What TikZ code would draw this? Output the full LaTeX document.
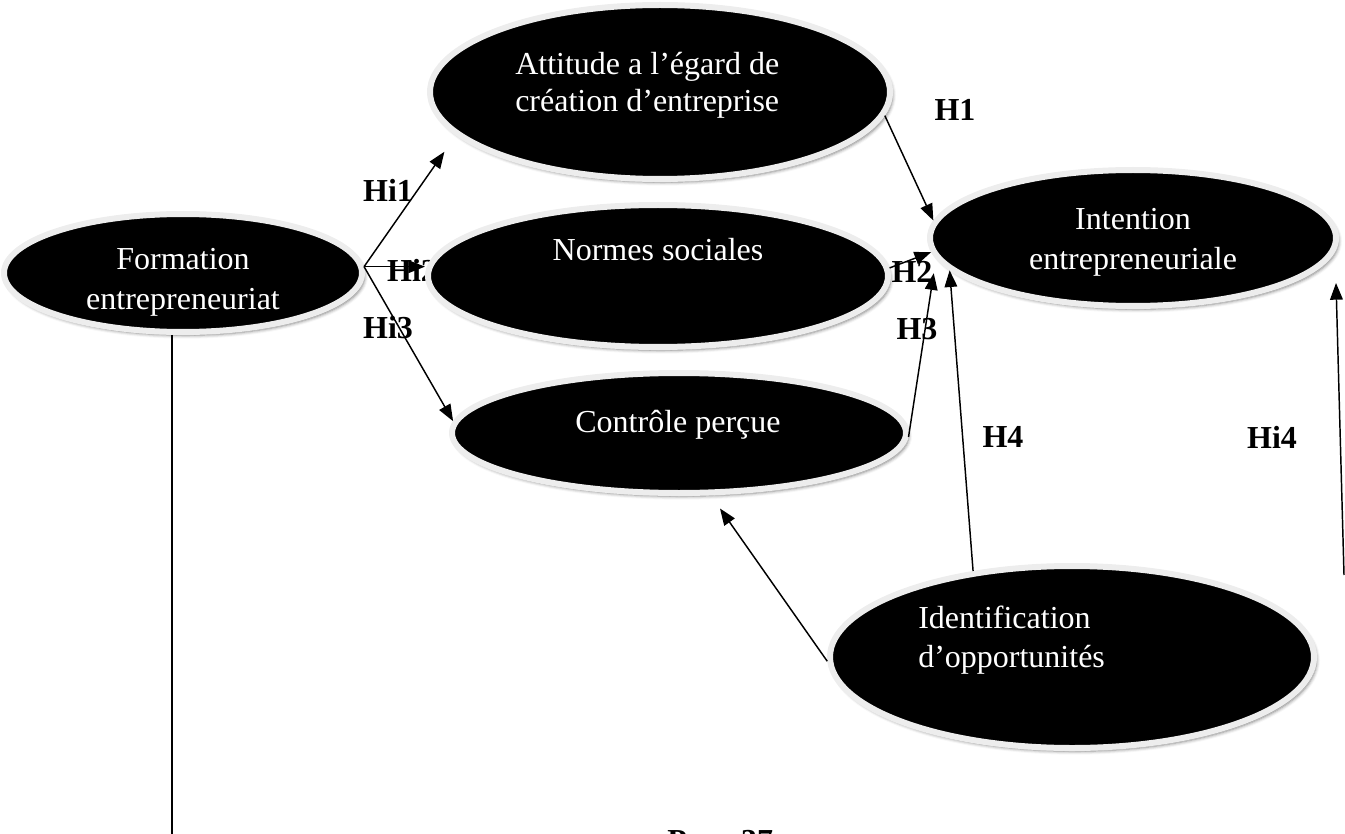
\documentclass[tikz,border=0pt]{standalone}
\usepackage{fontspec}
\setmainfont{Liberation Serif}
\usetikzlibrary{shapes.geometric,shadows.blur,arrows.meta}

\begin{document}
\begin{tikzpicture}[x=0.75pt,y=-0.75pt,
  bubble/.style={ellipse, draw=gray!14, line width=4.5pt, fill=black, inner sep=0pt,
    blur shadow={shadow xshift=2pt, shadow yshift=-2.5pt, shadow blur radius=2.5pt, shadow opacity=50}},
  intext/.style={text=white, font=\fontsize{24}{29}\selectfont, inner sep=0pt, anchor=base},
  hyp/.style={font=\bfseries\fontsize{24}{29}\selectfont, inner sep=0pt},
  arr/.style={draw=black, line width=1.1pt, -{Triangle[length=12.5pt,width=9.5pt]}},
  plain/.style={draw=black, line width=1.1pt}]

\useasboundingbox (0,0) rectangle (1345,834);

% hypothesis labels (drawn first so arrows and bubbles sit on top)
\node[hyp] (lH1)  at (955,110) {H1};
\node[hyp] (lHi1) at (388,190) {Hi1};
\node[hyp] (lHi2) at (412,270) {Hi2};
\node[hyp] (lH2)  at (912,272) {H2};
\node[hyp] (lHi3) at (388,328) {Hi3};
\node[hyp] (lH3)  at (917,329) {H3};
\node[hyp] (lH4)  at (1003,437) {H4};
\node[hyp] (lHi4) at (1272,437) {Hi4};

% bubbles
\node[bubble, minimum width=268.5pt, minimum height=88.5pt] (form)  at (183,273) {};
\node[bubble, minimum width=345pt,   minimum height=130.5pt] (att)  at (660,92) {};
\node[bubble, minimum width=345pt,   minimum height=106.5pt] (norm) at (658,276) {};
\node[bubble, minimum width=340.5pt, minimum height=90pt]   (ctrl)  at (679,433) {};
\node[bubble, minimum width=304.5pt, minimum height=102pt]  (int)   at (1133,238) {};
\node[bubble, minimum width=363pt,   minimum height=136.5pt] (ident) at (1072,657) {};

% bubble texts
\node[intext] (formA) at (183,270) {Formation};
\node[intext] (formB) at (183,310) {entrepreneuriat};
\node[intext, anchor=base west] (attA) at (515,75) {Attitude a l’égard de};
\node[intext, anchor=base west] (attB) at (515,112) {création d’entreprise};
\node[intext] (normA) at (658,261) {Normes sociales};
\node[intext] (ctrlA) at (678,432) {Contrôle perçue};
\node[intext] (intA) at (1133,230) {Intention};
\node[intext] (intB) at (1133,270) {entrepreneuriale};
\node[intext, anchor=base west] (idA) at (918,628) {Identification};
\node[intext, anchor=base west] (idB) at (918,667) {d’opportunités};

% page footer, mostly below the frame
\node[hyp, anchor=base west] (pg) at (667,851) {Page 37};

% free ends
\coordinate (hi4a) at (1344,575);
\coordinate (hi4b) at (1336,283);
\coordinate (pgbot) at (0,840);

% connectors
\draw[arr, shorten >=15pt] (form.2) -- (att.192);
\draw[arr] (form.2) -- (form.2 -| norm.west);
\draw[arr] (form.2) -- (ctrl.177);
\draw[arr] (att.354) -- (int.175);
\draw[arr] (norm.2) -- (int.184);
\draw[arr, shorten >=11pt] (ctrl.359) -- (int.186);
\draw[arr] (ident.139) -- (int.190);
\draw[arr, shorten >=12pt] (ident.181) -- (ctrl.297);
\draw[arr] (hi4a) -- (hi4b);
\draw[plain] (form.260) -- (form.260 |- pgbot);

\end{tikzpicture}
\end{document}
